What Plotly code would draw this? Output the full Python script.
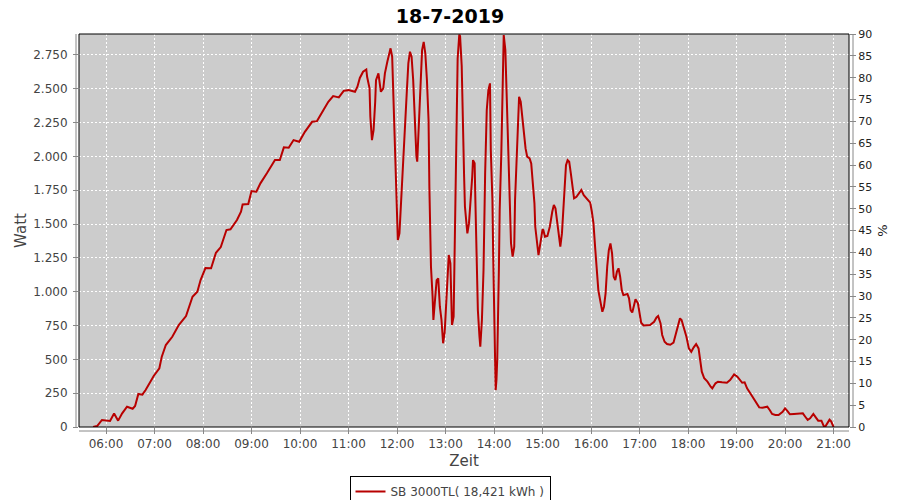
import plotly.graph_objects as go

DAY = "2019-07-18 "

times = [
    "05:44", "05:49", "05:55", "06:05", "06:10", "06:15", "06:20", "06:26", "06:33", "06:36",
    "06:40", "06:45", "06:49", "06:59", "07:06", "07:09", "07:14", "07:22", "07:30", "07:39",
    "07:47", "07:53", "07:57", "08:03", "08:10", "08:16", "08:22", "08:29", "08:34", "08:42",
    "08:47", "08:49", "08:56", "09:00", "09:06", "09:11", "09:19", "09:25", "09:29", "09:35",
    "09:40", "09:46", "09:52", "09:59", "10:06", "10:15", "10:21", "10:29", "10:35", "10:41",
    "10:48", "10:54", "11:00", "11:08", "11:11", "11:14", "11:18", "11:22", "11:23", "11:26",
    "11:27", "11:29", "11:31", "11:33", "11:34", "11:37", "11:40", "11:43", "11:45", "11:48",
    "11:52", "11:54", "11:56", "11:58", "11:59", "12:01", "12:03", "12:05", "12:07", "12:09",
    "12:12", "12:14", "12:16", "12:18", "12:20", "12:22", "12:24", "12:25", "12:27", "12:29",
    "12:31", "12:33", "12:35", "12:37", "12:39", "12:40", "12:42", "12:44", "12:45", "12:47",
    "12:49", "12:51", "12:53", "12:55", "12:57", "12:59", "13:01", "13:03", "13:04", "13:06",
    "13:08", "13:10", "13:11", "13:12", "13:14", "13:15", "13:17", "13:18", "13:20", "13:21",
    "13:23", "13:24", "13:27", "13:29", "13:31", "13:33", "13:34", "13:36", "13:37", "13:38",
    "13:40", "13:42", "13:43", "13:45", "13:47", "13:49", "13:51", "13:53", "13:55", "13:56",
    "13:58", "13:59", "14:00", "14:01", "14:02", "14:03", "14:04", "14:06", "14:07", "14:09",
    "14:10", "14:11", "14:12", "14:14", "14:15", "14:17", "14:19", "14:20", "14:21", "14:23",
    "14:25", "14:26", "14:28", "14:30", "14:31", "14:33", "14:35", "14:37", "14:39", "14:41",
    "14:44", "14:46", "14:48", "14:50", "14:51", "14:53", "14:55", "14:56", "14:58", "15:00",
    "15:01", "15:03", "15:06", "15:09", "15:12", "15:14", "15:16", "15:18", "15:20", "15:22",
    "15:24", "15:26", "15:28", "15:29", "15:31", "15:33", "15:35", "15:37", "15:39", "15:42",
    "15:45", "15:48", "15:51", "15:55", "15:59", "16:01", "16:03", "16:05", "16:07", "16:09",
    "16:12", "16:14", "16:16", "16:18", "16:20", "16:22", "16:24", "16:26", "16:28", "16:30",
    "16:32", "16:34", "16:36", "16:38", "16:40", "16:45", "16:47", "16:49", "16:51", "16:53",
    "16:55", "16:58", "17:00", "17:02", "17:05", "17:09", "17:13", "17:18", "17:21", "17:23",
    "17:26", "17:28", "17:31", "17:34", "17:38", "17:42", "17:44", "17:47", "17:50", "17:52",
    "17:55", "17:58", "18:01", "18:04", "18:07", "18:10", "18:13", "18:15", "18:17", "18:20",
    "18:24", "18:28", "18:30", "18:34", "18:37", "18:42", "18:48", "18:52", "18:55", "18:57",
    "19:01", "19:04", "19:07", "19:10", "19:13", "19:17", "19:21", "19:25", "19:28", "19:32",
    "19:38", "19:41", "19:44", "19:48", "19:52", "19:57", "20:00", "20:03", "20:06", "20:11",
    "20:17", "20:22", "20:25", "20:28", "20:31", "20:35", "20:38", "20:41", "20:45", "20:48",
    "20:50", "20:53", "20:55", "20:57", "20:59", "21:00",
]

watt = [
    0, 7, 52, 45, 100, 47, 101, 150, 135, 155,
    244, 239, 273, 377, 434, 520, 606, 667, 754, 820,
    963, 1000, 1086, 1175, 1173, 1288, 1330, 1456, 1461, 1530,
    1591, 1645, 1648, 1744, 1739, 1801, 1875, 1929, 1973, 1973,
    2067, 2064, 2121, 2108, 2182, 2256, 2261, 2343, 2404, 2446,
    2436, 2485, 2490, 2478, 2515, 2580, 2626, 2643, 2589, 2503,
    2293, 2121, 2195, 2404, 2564, 2614, 2478, 2503, 2614, 2700,
    2799, 2737, 2367, 1875, 1641, 1382, 1431, 1641, 1825, 2121,
    2466, 2688, 2774, 2737, 2564, 2219, 1998, 1961, 2219, 2490,
    2786, 2847, 2761, 2564, 2269, 1776, 1185, 963, 791, 939,
    1086, 1099, 889, 791, 619, 704, 914, 1111, 1271, 1210,
    754, 815, 1148, 1542, 2416, 2724, 2900, 2890, 2670, 2300,
    1850, 1630, 1431, 1505, 1653, 1850, 1973, 1949, 1653, 1308,
    865, 667, 593, 791, 1160, 1875, 2343, 2490, 2540, 2047,
    1678, 1259, 865, 372, 273, 347, 508, 1160, 1604, 2023,
    2416, 2836, 2897, 2786, 2564, 2195, 1850, 1604, 1358, 1259,
    1333, 1678, 2023, 2318, 2441, 2404, 2293, 2145, 2059, 1998,
    1986, 1949, 1825, 1653, 1480, 1358, 1271, 1308, 1406, 1461,
    1456, 1406, 1412, 1480, 1591, 1641, 1616, 1505, 1394, 1333,
    1431, 1628, 1850, 1936, 1973, 1961, 1875, 1776, 1690, 1702,
    1731, 1752, 1714, 1682, 1658, 1591, 1505, 1333, 1185, 1012,
    914, 852, 889, 988, 1185, 1308, 1357, 1283, 1111, 1086,
    1148, 1173, 1111, 1012, 975, 983, 951, 864, 846, 902,
    944, 914, 840, 771, 751, 751, 754, 778, 810, 820,
    766, 680, 630, 613, 608, 623, 667, 754, 803, 791,
    729, 667, 581, 556, 589, 613, 581, 500, 409, 360,
    335, 298, 286, 323, 335, 330, 327, 347, 379, 389,
    372, 347, 327, 330, 286, 249, 212, 170, 145, 143,
    150, 126, 96, 89, 89, 113, 138, 118, 94, 96,
    96, 101, 76, 52, 64, 96, 71, 47, 47, 5,
    5, 37, 54, 42, 5, 0,
]

title_text = "18-7-2019"
series_name = "SB 3000TL( 18,421 kWh )"
left_title = "Watt"
right_title = "%"
x_title = "Zeit"
x_range = [DAY + "05:26:36", DAY + "21:19:06"]
y_range = [0, 2905]
y2_range = [0, 90]

FONT = "DejaVu Sans"
GRAY = "#444444"
AXGRAY = "#888888"

# the page adds an 8px body margin, so the figure is 892x492
W, H = 892, 492
ML, MR, MT, MB = 71, 51, 26, 73
PW, PH = W - ML - MR, H - MT - MB

xs = [DAY + t for t in times]

fig = go.Figure()
fig.add_trace(go.Scatter(
    x=xs, y=watt, mode="lines", name=series_name,
    line=dict(color="#b80000", width=2),
))
fig.add_trace(go.Scatter(x=[], y=[], yaxis="y2", showlegend=False))

fig.update_layout(
    width=W, height=H,
    margin=dict(l=ML, r=MR, t=MT, b=MB, autoexpand=False),
    paper_bgcolor="white",
    plot_bgcolor="#cccccc",
    separators=",.",
    font=dict(family=FONT, size=12, color=GRAY),
    title=dict(text="<b>" + title_text + "</b>", x=(442 - ML) / PW, xref="paper", xanchor="center",
               y=1 - 8 / H, yanchor="middle", automargin=False,
               font=dict(family=FONT, size=19, color="black")),
    xaxis=dict(
        type="date", range=x_range, automargin=False,
        tick0=DAY + "06:00", dtick=3600000, tickformat="%H:%M",
        showgrid=True, gridcolor="white", griddash="2px,2px", gridwidth=1,
        showline=False, zeroline=False,
        ticks="outside", ticklen=6, tickcolor=AXGRAY,
        tickfont=dict(family=FONT, size=12, color=GRAY),
        title=dict(text=x_title, font=dict(family=FONT, size=15, color=GRAY), standoff=5),
    ),
    yaxis=dict(
        range=y_range, dtick=250, tickformat=",d", automargin=False,
        showgrid=True, gridcolor="white", griddash="2px,2px", gridwidth=1,
        showline=False, zeroline=False,
        ticks="outside", ticklen=5, tickcolor=AXGRAY, ticklabelstandoff=3,
        tickfont=dict(family=FONT, size=12, color=GRAY),
        title=dict(text=left_title, font=dict(family=FONT, size=15, color=GRAY), standoff=2),
    ),
    yaxis2=dict(
        range=y2_range, dtick=5, overlaying="y", side="right", automargin=False,
        showgrid=False, zeroline=False, showline=False,
        ticks="outside", ticklen=6, tickcolor=AXGRAY,
        tickfont=dict(family=FONT, size=11, color="#222222"),
        title=dict(text=right_title, font=dict(family=FONT, size=13, color="#222222"), standoff=6),
    ),
    showlegend=True,
    legend=dict(
        orientation="h", x=(442 - ML) / PW, xanchor="center", y=-49 / PH, yanchor="top",
        bordercolor="black", borderwidth=1, bgcolor="white",
        font=dict(family=FONT, size=12, color=GRAY),
        itemwidth=30,
    ),
    shapes=[
        dict(type="rect", xref="paper", yref="paper", x0=0, x1=1, y0=0, y1=1,
             line=dict(color="black", width=1), fillcolor="rgba(0,0,0,0)", layer="above"),
        dict(type="line", xref="paper", yref="paper", x0=-3 / PW, x1=-3 / PW, y0=0, y1=1,
             line=dict(color=AXGRAY, width=1)),
        dict(type="line", xref="paper", yref="paper", x0=1 + 4 / PW, x1=1 + 4 / PW, y0=0, y1=1,
             line=dict(color=AXGRAY, width=1)),
        dict(type="line", xref="paper", yref="paper", x0=0, x1=1, y0=-4 / PH, y1=-4 / PH,
             line=dict(color=AXGRAY, width=1)),
    ],
)

fig.write_html("out.html")
